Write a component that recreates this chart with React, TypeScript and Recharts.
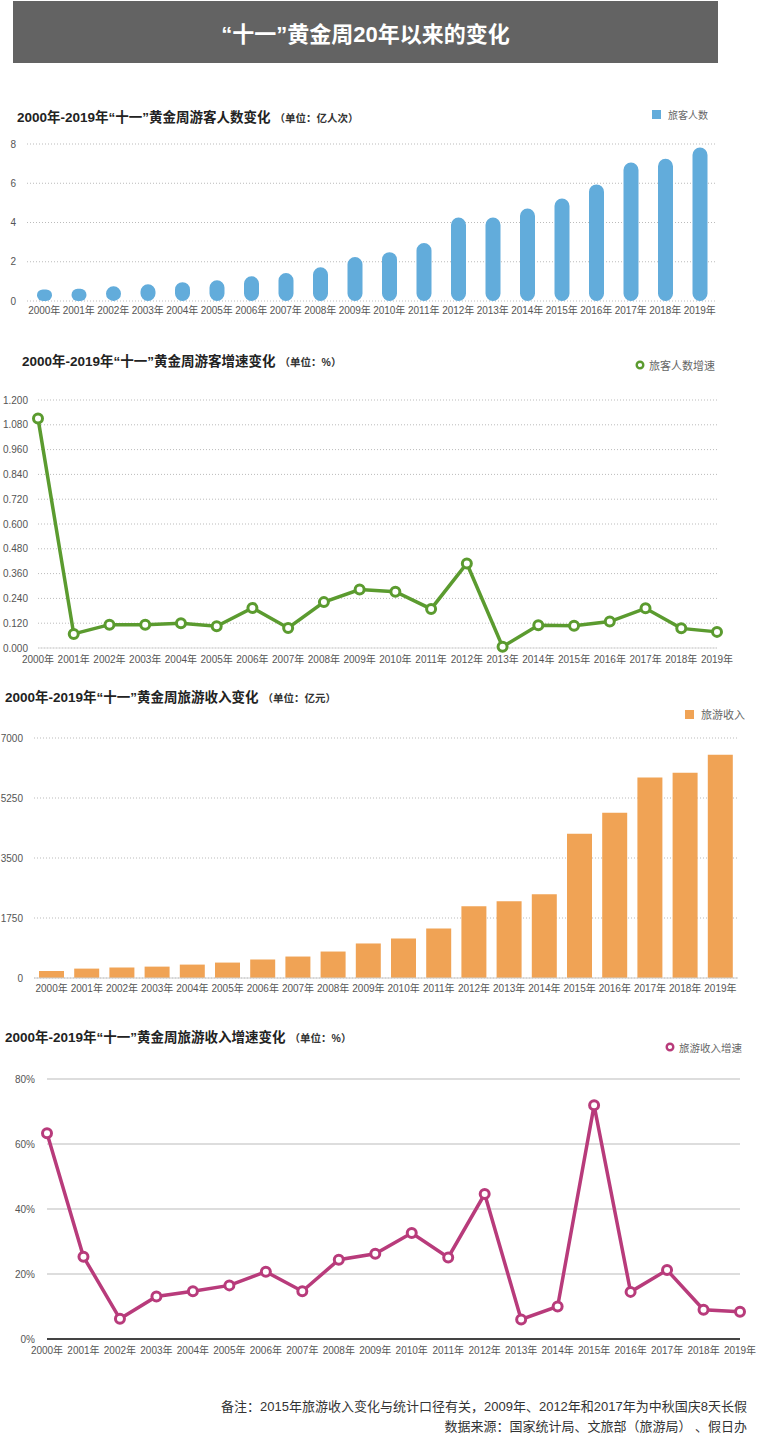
import { Bar, BarChart, CartesianGrid, Line, LineChart, XAxis, YAxis } from 'recharts';

const years = [
  '2000年', '2001年', '2002年', '2003年', '2004年', '2005年', '2006年', '2007年', '2008年', '2009年',
  '2010年', '2011年', '2012年', '2013年', '2014年', '2015年', '2016年', '2017年', '2018年', '2019年',
];

// 旅客人数 (亿人次)
const visitors = [0.59, 0.62, 0.75, 0.85, 0.96, 1.06, 1.26, 1.43, 1.72, 2.24, 2.49, 2.95, 4.25, 4.25, 4.71, 5.22, 5.94, 7.06, 7.25, 7.82];
// 旅客人数增速
const visitorGrowth = [1.111, 0.068, 0.113, 0.113, 0.12, 0.105, 0.194, 0.097, 0.222, 0.283, 0.272, 0.189, 0.409, 0.006, 0.11, 0.108, 0.128, 0.192, 0.095, 0.078];
// 旅游收入 (亿元)
const revenue = [205, 274, 303, 332, 391, 450, 538, 626, 772, 1007, 1154, 1447, 2092, 2239, 2444, 4204, 4820, 5846, 5983, 6511];
// 旅游收入增速 (%)
const revenueGrowth = [63.3, 25.3, 6.2, 13.1, 14.7, 16.5, 20.7, 14.7, 24.4, 26.2, 32.6, 25.1, 44.6, 6.0, 10.0, 71.9, 14.5, 21.2, 9.0, 8.4];

const visitorTicks = [0, 2, 4, 6, 8];
const growthTicks = [0, 0.12, 0.24, 0.36, 0.48, 0.6, 0.72, 0.84, 0.96, 1.08, 1.2];
const revenueTicks = [0, 1750, 3500, 5250, 7000];
const revenueGrowthTicks = [0, 20, 40, 60, 80];

const data = years.map((year, i) => ({
  year,
  visitors: visitors[i],
  visitorGrowth: visitorGrowth[i],
  revenue: revenue[i],
  revenueGrowth: revenueGrowth[i],
}));

const FONT = '"Liberation Sans", "Noto Sans CJK SC", sans-serif';
const BLUE = '#62acdb';
const GREEN = '#5b9b2f';
const ORANGE = '#f0a355';
const MAGENTA = '#b83b7b';
const tick = { fontSize: 10, fill: '#555', fontFamily: FONT };

function Title({ x, y, main, unit }: { x: number; y: number; main: string; unit: string }) {
  return (
    <div style={{ position: 'absolute', left: x, top: y - 9, whiteSpace: 'nowrap', color: '#222' }}>
      <span style={{ fontSize: 13.5, fontWeight: 700 }}>{main}</span>
      <span style={{ fontSize: 10.5, fontWeight: 700, marginLeft: 4, color: '#333' }}>（单位：{unit}）</span>
    </div>
  );
}

function Legend({ x, y, label, color, dot, size = 10 }: { x: number; y: number; label: string; color: string; dot?: boolean; size?: number }) {
  return (
    <div style={{ position: 'absolute', left: x, top: y - 8, height: 16, display: 'flex', alignItems: 'center', whiteSpace: 'nowrap', fontSize: size, color: '#666' }}>
      {dot ? (
        <svg width={10} height={10} style={{ marginRight: 4 }}>
          <circle cx={5} cy={5} r={3.3} fill="#fff" stroke={color} strokeWidth={2.4} />
        </svg>
      ) : (
        <span style={{ display: 'inline-block', width: 9, height: 9, background: color, marginRight: 7 }} />
      )}
      {label}
    </div>
  );
}

export default function App() {
  return (
    <div style={{ position: 'relative', width: 767, height: 1438, background: '#fff', fontFamily: FONT, overflow: 'hidden' }}>
      <style>{'body{margin:0}'}</style>

      <div
        style={{
          position: 'absolute', left: 13, top: 1, width: 705, height: 62, background: '#636363',
          color: '#fff', fontSize: 22, fontWeight: 700, display: 'flex', alignItems: 'center', justifyContent: 'center',
        }}
      >
        “十一”黄金周20年以来的变化
      </div>

      {/* chart 1 */}
      <Title x={17} y={115} main="2000年-2019年“十一”黄金周游客人数变化" unit="亿人次" />
      <Legend x={652} y={114} label="旅客人数" color={BLUE} />
      <div style={{ position: 'absolute', left: 0, top: 130 }}>
        <BarChart width={767} height={201} data={data} margin={{ top: 14, right: 50, bottom: 0, left: 0 }}>
          <CartesianGrid vertical={false} stroke="#bbb" strokeDasharray="1 2" />
          <XAxis dataKey="year" interval={0} axisLine={false} tickLine={false} tickSize={0} tickMargin={6} height={30} tick={tick} />
          <YAxis domain={[0, 8]} ticks={visitorTicks} axisLine={false} tickLine={false} tickSize={0} tickMargin={11} width={27} tick={tick} />
          <Bar dataKey="visitors" fill={BLUE} barSize={15} radius={[7.5, 7.5, 7.5, 7.5]} isAnimationActive={false} />
        </BarChart>
      </div>

      {/* chart 2 */}
      <Title x={22} y={359} main="2000年-2019年“十一”黄金周游客增速变化" unit="%" />
      <Legend x={635} y={365} label="旅客人数增速" color={GREEN} dot size={11} />
      <div style={{ position: 'absolute', left: 0, top: 388 }}>
        <LineChart width={767} height={290} data={data} margin={{ top: 12, right: 50, bottom: 0, left: 0 }}>
          <CartesianGrid vertical={false} stroke="#bbb" strokeDasharray="1 2" />
          <XAxis dataKey="year" interval={0} axisLine={{ stroke: '#ddd' }} tickLine={false} tickSize={0} tickMargin={8} height={30} tick={tick} />
          <YAxis
            domain={[0, 1.2]}
            ticks={growthTicks}
            tickFormatter={(v: number) => v.toFixed(3)}
            axisLine={false}
            tickLine={false}
            tickSize={0}
            tickMargin={10}
            width={38}
            tick={tick}
          />
          <Line
            dataKey="visitorGrowth"
            stroke={GREEN}
            strokeWidth={3.5}
            dot={{ r: 4.5, fill: '#fff', stroke: GREEN, strokeWidth: 3 }}
            isAnimationActive={false}
          />
        </LineChart>
      </div>

      {/* chart 3 */}
      <Title x={5} y={695} main="2000年-2019年“十一”黄金周旅游收入变化" unit="亿元" />
      <Legend x={685} y={714} label="旅游收入" color={ORANGE} size={11} />
      <div style={{ position: 'absolute', left: 0, top: 725 }}>
        <BarChart width={767} height={283} data={data} margin={{ top: 13, right: 29, bottom: 0, left: 0 }}>
          <CartesianGrid vertical={false} stroke="#bbb" strokeDasharray="1 2" />
          <XAxis dataKey="year" interval={0} axisLine={{ stroke: '#ccc' }} tickLine={false} tickSize={0} tickMargin={7} height={30} tick={tick} />
          <YAxis domain={[0, 7000]} ticks={revenueTicks} axisLine={false} tickLine={false} tickSize={0} tickMargin={11} width={34} tick={tick} />
          <Bar dataKey="revenue" fill={ORANGE} barSize={25} isAnimationActive={false} />
        </BarChart>
      </div>

      {/* chart 4 */}
      <Title x={5} y={1035} main="2000年-2019年“十一”黄金周旅游收入增速变化" unit="%" />
      <Legend x={665} y={1047} label="旅游收入增速" color={MAGENTA} dot size={10.5} />
      <div style={{ position: 'absolute', left: 0, top: 1065 }}>
        <LineChart width={767} height={304} data={data} margin={{ top: 14, right: 27, bottom: 0, left: 0 }}>
          <CartesianGrid vertical={false} stroke="#bbb" />
          <XAxis dataKey="year" interval={0} axisLine={{ stroke: '#111', strokeWidth: 1.5 }} tickLine={false} tickSize={0} tickMargin={8} height={30} tick={tick} />
          <YAxis
            domain={[0, 80]}
            ticks={revenueGrowthTicks}
            tickFormatter={(v: number) => `${v}%`}
            axisLine={false}
            tickLine={false}
            tickSize={0}
            tickMargin={12}
            width={47}
            tick={tick}
          />
          <Line
            dataKey="revenueGrowth"
            stroke={MAGENTA}
            strokeWidth={3.5}
            dot={{ r: 4.5, fill: '#fff', stroke: MAGENTA, strokeWidth: 3 }}
            isAnimationActive={false}
          />
        </LineChart>
      </div>

      <div style={{ position: 'absolute', right: 20, top: 1397, textAlign: 'right', fontSize: 13, lineHeight: '20px', color: '#333', whiteSpace: 'nowrap' }}>
        <div>备注：2015年旅游收入变化与统计口径有关，2009年、2012年和2017年为中秋国庆8天长假</div>
        <div>数据来源：国家统计局、文旅部（旅游局） 、假日办</div>
      </div>
    </div>
  );
}
